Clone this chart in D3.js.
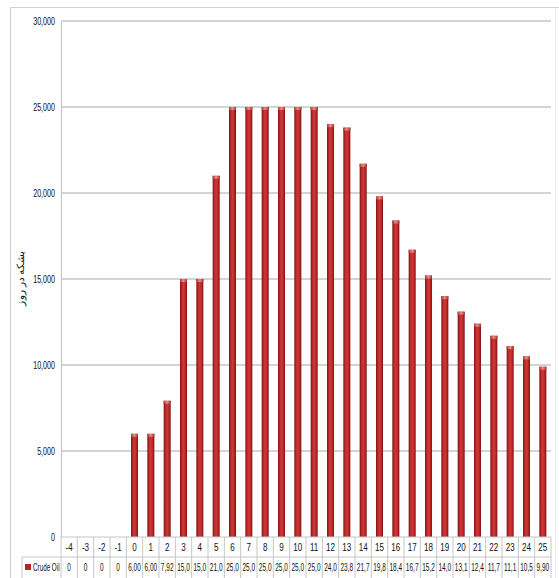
<!DOCTYPE html>
<html>
<head>
<meta charset="utf-8">
<script src="https://cdn.jsdelivr.net/npm/d3@7"></script>
<style>
  html, body { margin: 0; padding: 0; background: #fff; }
  svg { display: block; }
  text { font-family: "Liberation Sans", Arial, sans-serif; fill: #111; }
</style>
</head>
<body>
<svg id="chart" width="559" height="578"></svg>
<script>
// Years relative to start of production
const categories = [-4, -3, -2, -1, 0, 1, 2, 3, 4, 5, 6, 7, 8, 9, 10, 11, 12,
  13, 14, 15, 16, 17, 18, 19, 20, 21, 22, 23, 24, 25];
// Crude oil production, barrels per day
const crudeOil = [0, 0, 0, 0, 6000, 6000, 7920, 15000, 15000, 21000, 25000, 25000,
  25000, 25000, 25000, 25000, 24000, 23800, 21700, 19800, 18400, 16700, 15200,
  14000, 13100, 12400, 11700, 11100, 10500, 9900];
const yTicks = [0, 5000, 10000, 15000, 20000, 25000, 30000];
const seriesName = "Crude Oil";
const yTitle = "بشکه در روز";

const W = 559, H = 578;
const plot = { left: 61, right: 551, top: 21, bottom: 537 };
const rowH = 20;

const svg = d3.select("#chart");

const x = d3.scaleBand()
  .domain(categories)
  .range([plot.left, plot.right])
  .paddingInner(0.57)
  .paddingOuter(0.285);
const step = x.step();
const colLeft = c => plot.left + categories.indexOf(c) * step;

const y = d3.scaleLinear().domain([0, 30000]).range([plot.bottom, plot.top]);

// Condensed labels: horizontally squeezed text placed at (px, py)
function narrowText(parent, px, py, str, size, sx, anchor) {
  return parent.append("text")
    .attr("transform", `translate(${px},${py}) scale(${sx},1)`)
    .attr("text-anchor", anchor)
    .attr("font-size", size)
    .text(str);
}

// Bar shading
const defs = svg.append("defs");
const g1 = defs.append("linearGradient").attr("id", "barFill")
  .attr("x1", "0").attr("x2", "1").attr("y1", "0").attr("y2", "0");
[["0%", "#861313"], ["30%", "#c02b2b"], ["50%", "#d03838"], ["75%", "#ba2828"], ["100%", "#7a1111"]]
  .forEach(([o, c]) => g1.append("stop").attr("offset", o).attr("stop-color", c));
const g2 = defs.append("linearGradient").attr("id", "capFill")
  .attr("x1", "0").attr("x2", "1").attr("y1", "0").attr("y2", "0");
[["0%", "#b03a3a"], ["50%", "#ec8c8c"], ["100%", "#a83030"]]
  .forEach(([o, c]) => g2.append("stop").attr("offset", o).attr("stop-color", c));

// Outer chart frame
svg.append("path")
  .attr("d", `M10.5,${H} V7.5 H${W}`)
  .attr("fill", "none").attr("stroke", "#d2d2d2").attr("stroke-width", 1.2);
svg.append("line")
  .attr("x1", 555.5).attr("x2", 555.5).attr("y1", 8).attr("y2", H)
  .attr("stroke", "#ececec");

// Gridlines
svg.append("g").selectAll("line")
  .data(yTicks.filter(d => d > 0))
  .join("line")
  .attr("x1", plot.left).attr("x2", plot.right)
  .attr("y1", d => y(d)).attr("y2", d => y(d))
  .attr("stroke", "#c6c6c6").attr("stroke-width", 1.4);

// Value axis (line + condensed tick labels)
const yAxis = d3.axisLeft(y).tickValues(yTicks).tickSize(0).tickFormat(() => "");
const ya = svg.append("g").attr("transform", `translate(${plot.left},0)`).call(yAxis);
ya.select(".domain").attr("stroke", "#c6c6c6").attr("stroke-width", 1.2);
const fmtTick = d3.format(",");
const tickLabels = svg.append("g");
yTicks.forEach(t => narrowText(tickLabels, plot.left - 6, y(t) + 4, fmtTick(t), 11, 0.65, "end"));

// Axis title
svg.append("text")
  .attr("transform", `translate(24,278) rotate(-90)`)
  .attr("text-anchor", "middle")
  .attr("font-size", 10)
  .attr("font-family", "\"Noto Sans\", \"DejaVu Sans\", sans-serif")
  .attr("textLength", 55)
  .attr("lengthAdjust", "spacingAndGlyphs")
  .text(yTitle);

// Bars
const bars = svg.append("g");
const data = categories.map((c, i) => ({ c, v: crudeOil[i] })).filter(d => d.v > 0);
bars.selectAll("rect.bar")
  .data(data)
  .join("rect")
  .attr("class", "bar")
  .attr("x", d => x(d.c))
  .attr("y", d => y(d.v))
  .attr("width", x.bandwidth())
  .attr("height", d => y(0) - y(d.v))
  .attr("fill", "url(#barFill)");
bars.selectAll("rect.cap")
  .data(data)
  .join("rect")
  .attr("class", "cap")
  .attr("x", d => x(d.c))
  .attr("y", d => y(d.v))
  .attr("width", x.bandwidth())
  .attr("height", 3)
  .attr("fill", "url(#capFill)");

// Data table
const table = svg.append("g");
const gridColor = "#c6c6c6";
const tTop = plot.bottom, tMid = plot.bottom + rowH, tBot = H + 2;
table.append("line").attr("x1", plot.left).attr("x2", plot.right)
  .attr("y1", tTop).attr("y2", tTop).attr("stroke", gridColor).attr("stroke-width", 1.2);
table.append("line").attr("x1", 22).attr("x2", plot.right)
  .attr("y1", tMid).attr("y2", tMid).attr("stroke", gridColor);
table.append("line").attr("x1", 22).attr("x2", 22)
  .attr("y1", tMid).attr("y2", tBot).attr("stroke", gridColor);
table.selectAll("line.col")
  .data(categories.concat([null]))
  .join("line")
  .attr("class", "col")
  .attr("x1", (d, i) => plot.left + i * step)
  .attr("x2", (d, i) => plot.left + i * step)
  .attr("y1", tTop).attr("y2", tBot)
  .attr("stroke", gridColor);

categories.forEach(c =>
  narrowText(table, colLeft(c) + step / 2, tTop + 14, String(c), 11.5, 0.7, "middle"));

const fmtVal = v => v === 0 ? "0" : d3.format(".3r")(v / 1000).replace(".", ",");
categories.forEach((c, i) =>
  narrowText(table, colLeft(c) + step / 2, tMid + 14, fmtVal(crudeOil[i]), 10.5, 0.62, "middle"));

// Legend key in the table
table.append("rect").attr("x", 25).attr("y", tMid + 7).attr("width", 6).attr("height", 6)
  .attr("fill", "#b82424");
narrowText(table, 33, tMid + 14, seriesName, 10.5, 0.6, "start");
</script>
</body>
</html>
